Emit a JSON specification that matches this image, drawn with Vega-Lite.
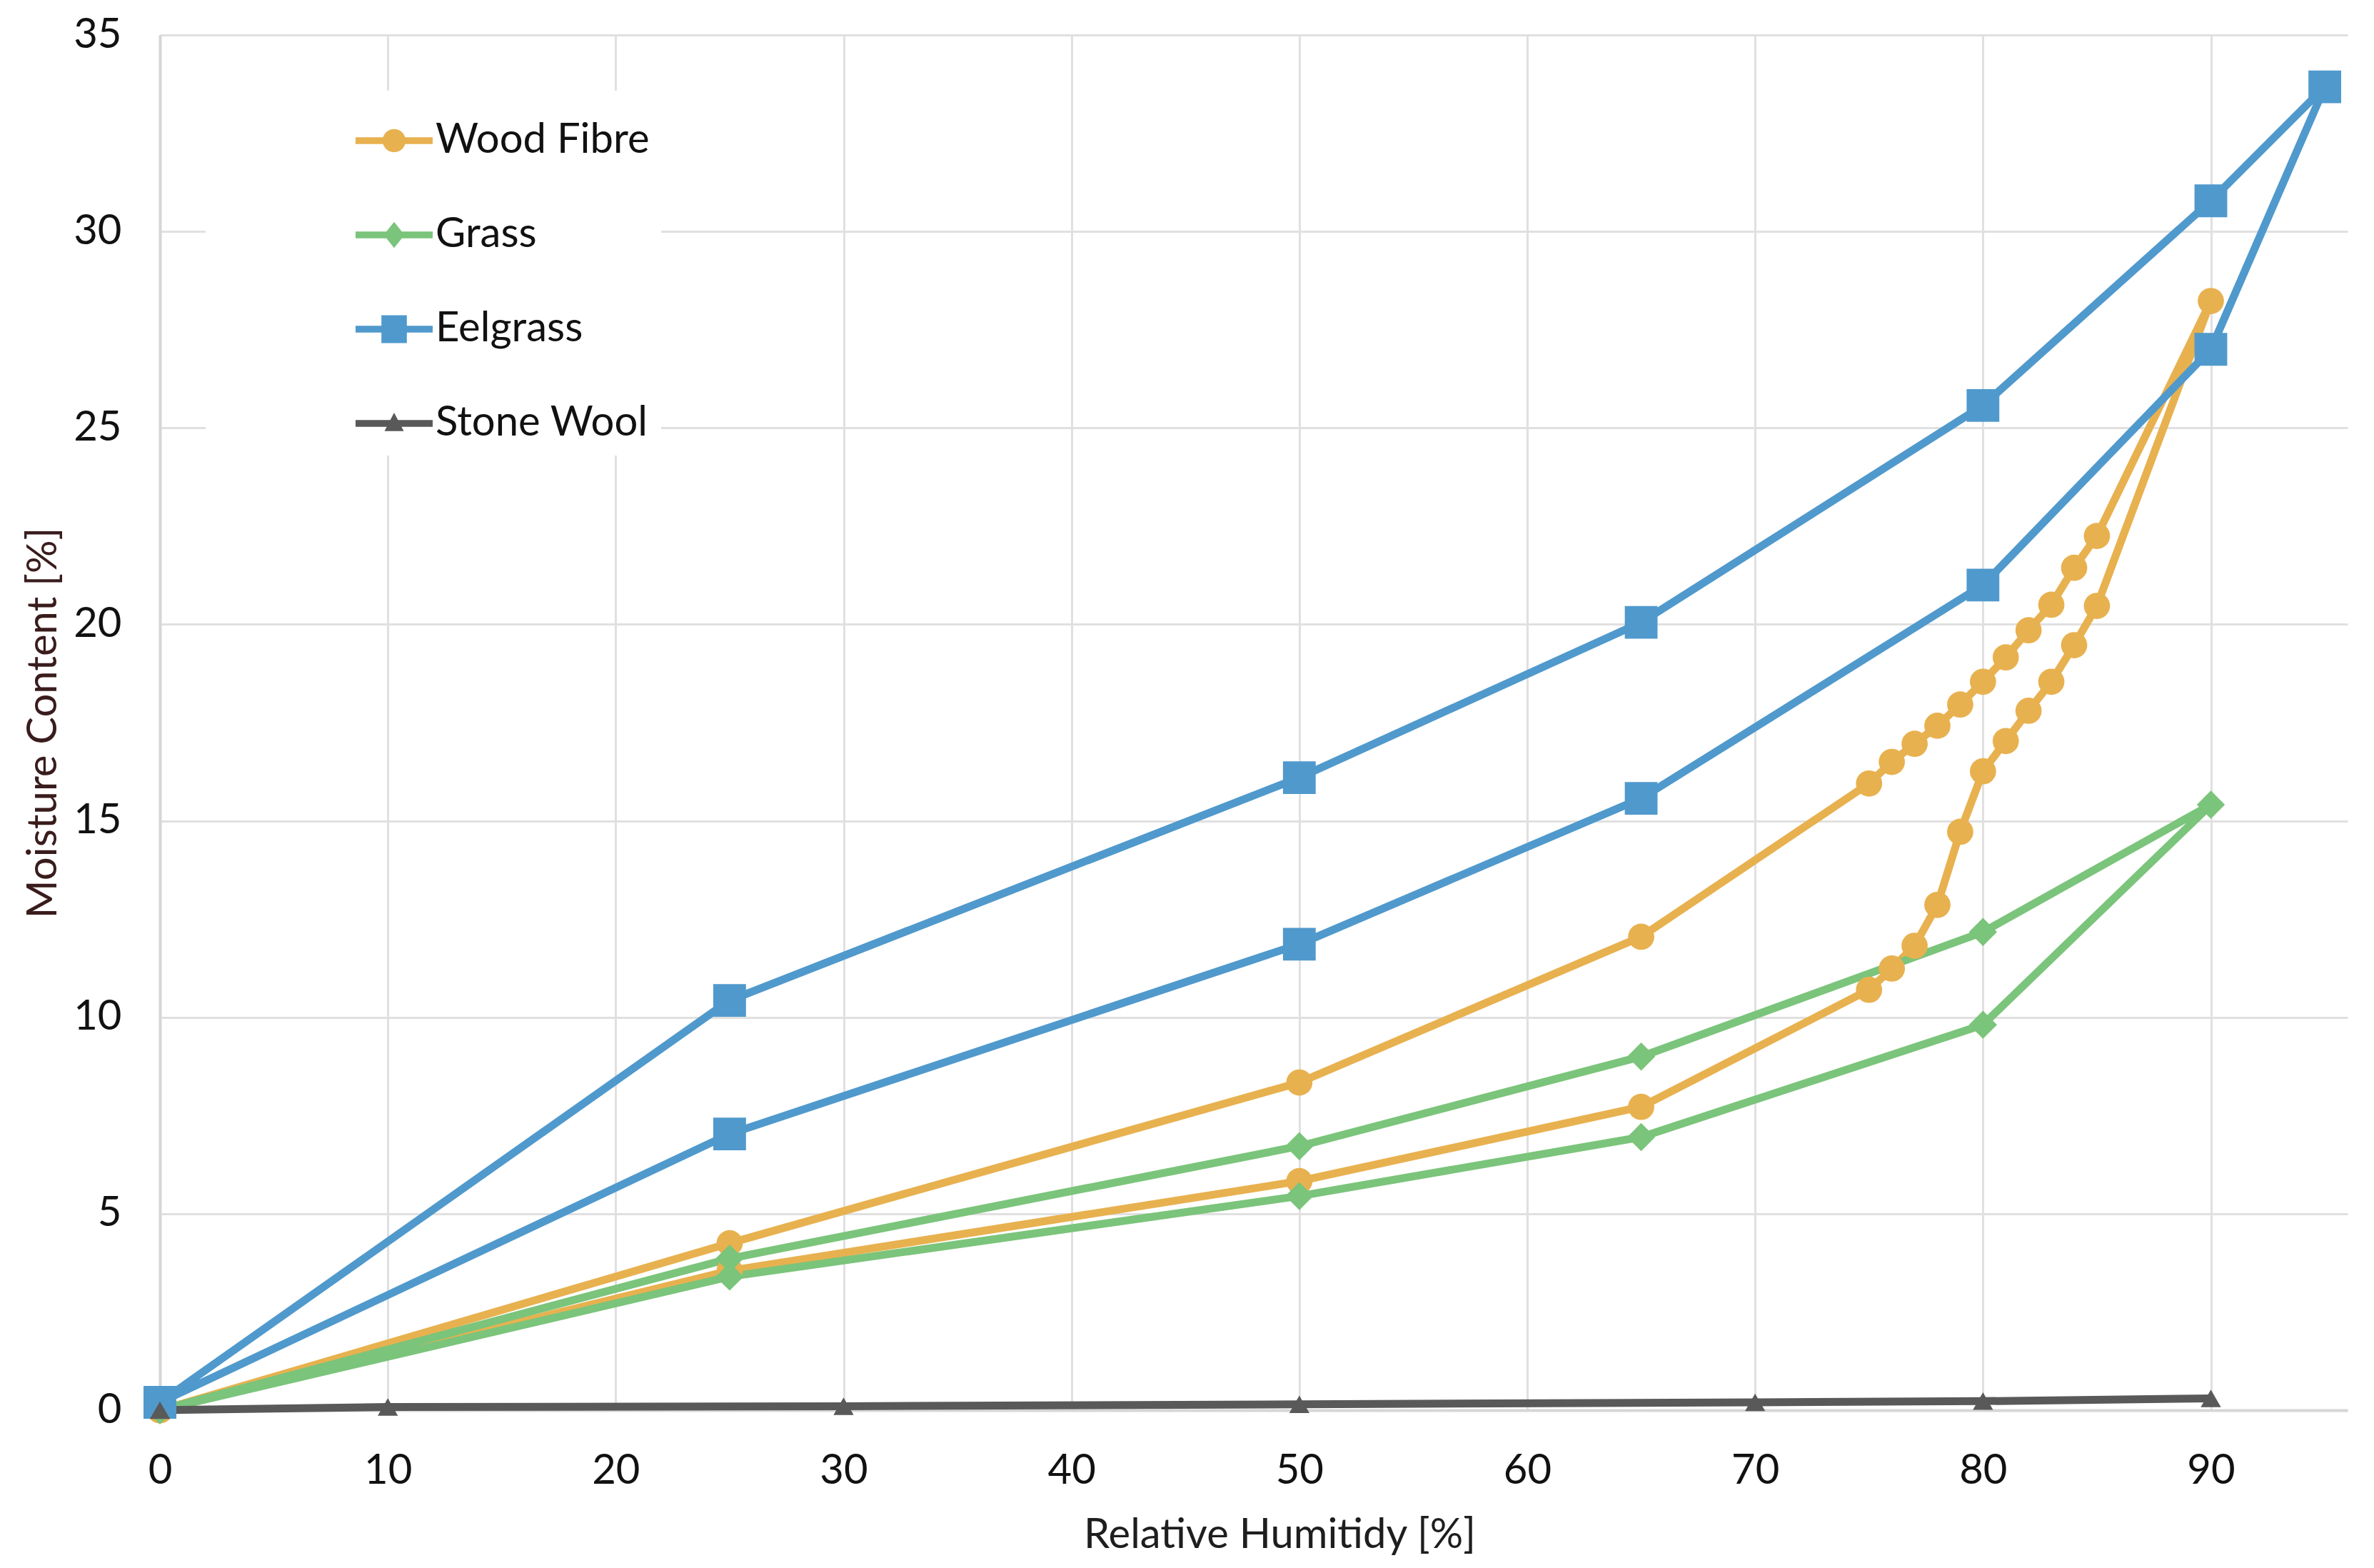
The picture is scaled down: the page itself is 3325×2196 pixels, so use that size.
{
  "$schema": "https://vega.github.io/schema/vega-lite/v6.json",
  "autosize": {"type": "none"},
  "width": 3064,
  "height": 1926,
  "padding": {"left": 224, "top": 49, "right": 37, "bottom": 221},
  "background": "white",
  "config": {
    "view": {"stroke": null},
    "font": "Lato",
    "legend": {"rowPadding": 49},
    "axis": {
      "domainColor": "#d6d6d6",
      "domainWidth": 4,
      "gridColor": "#e0e0e0",
      "gridWidth": 3,
      "ticks": false,
      "labelFlush": false,
      "labelFont": "Lato",
      "titleFont": "Lato",
      "labelFontSize": 58,
      "titleFontSize": 58,
      "titleFontWeight": "normal",
      "labelColor": "#111111"
    }
  },
  "data": {
    "values": [
      {"series": "Wood Fibre", "i": 0, "rh": 0, "mc": 0},
      {"series": "Wood Fibre", "i": 1, "rh": 25, "mc": 3.55},
      {"series": "Wood Fibre", "i": 2, "rh": 50, "mc": 5.83},
      {"series": "Wood Fibre", "i": 3, "rh": 65, "mc": 7.72},
      {"series": "Wood Fibre", "i": 4, "rh": 75, "mc": 10.7},
      {"series": "Wood Fibre", "i": 5, "rh": 76, "mc": 11.24},
      {"series": "Wood Fibre", "i": 6, "rh": 77, "mc": 11.82},
      {"series": "Wood Fibre", "i": 7, "rh": 78, "mc": 12.86},
      {"series": "Wood Fibre", "i": 8, "rh": 79, "mc": 14.72},
      {"series": "Wood Fibre", "i": 9, "rh": 80, "mc": 16.26},
      {"series": "Wood Fibre", "i": 10, "rh": 81, "mc": 17.03},
      {"series": "Wood Fibre", "i": 11, "rh": 82, "mc": 17.8},
      {"series": "Wood Fibre", "i": 12, "rh": 83, "mc": 18.54},
      {"series": "Wood Fibre", "i": 13, "rh": 84, "mc": 19.47},
      {"series": "Wood Fibre", "i": 14, "rh": 85, "mc": 20.47},
      {"series": "Wood Fibre", "i": 15, "rh": 90, "mc": 28.23},
      {"series": "Wood Fibre", "i": 16, "rh": 85, "mc": 22.25},
      {"series": "Wood Fibre", "i": 17, "rh": 84, "mc": 21.44},
      {"series": "Wood Fibre", "i": 18, "rh": 83, "mc": 20.5},
      {"series": "Wood Fibre", "i": 19, "rh": 82, "mc": 19.85},
      {"series": "Wood Fibre", "i": 20, "rh": 81, "mc": 19.16},
      {"series": "Wood Fibre", "i": 21, "rh": 80, "mc": 18.54},
      {"series": "Wood Fibre", "i": 22, "rh": 79, "mc": 17.96},
      {"series": "Wood Fibre", "i": 23, "rh": 78, "mc": 17.42},
      {"series": "Wood Fibre", "i": 24, "rh": 77, "mc": 16.96},
      {"series": "Wood Fibre", "i": 25, "rh": 76, "mc": 16.5},
      {"series": "Wood Fibre", "i": 26, "rh": 75, "mc": 15.95},
      {"series": "Wood Fibre", "i": 27, "rh": 65, "mc": 12.05},
      {"series": "Wood Fibre", "i": 28, "rh": 50, "mc": 8.34},
      {"series": "Wood Fibre", "i": 29, "rh": 25, "mc": 4.25},
      {"series": "Wood Fibre", "i": 30, "rh": 0, "mc": 0},
      {"series": "Grass", "i": 0, "rh": 0, "mc": 0},
      {"series": "Grass", "i": 1, "rh": 25, "mc": 3.4},
      {"series": "Grass", "i": 2, "rh": 50, "mc": 5.45},
      {"series": "Grass", "i": 3, "rh": 65, "mc": 6.95},
      {"series": "Grass", "i": 4, "rh": 80, "mc": 9.81},
      {"series": "Grass", "i": 5, "rh": 90, "mc": 15.41},
      {"series": "Grass", "i": 6, "rh": 80, "mc": 12.17},
      {"series": "Grass", "i": 7, "rh": 65, "mc": 9.0},
      {"series": "Grass", "i": 8, "rh": 50, "mc": 6.72},
      {"series": "Grass", "i": 9, "rh": 25, "mc": 3.86},
      {"series": "Grass", "i": 10, "rh": 0, "mc": 0},
      {"series": "Eelgrass", "i": 0, "rh": 0, "mc": 0.2},
      {"series": "Eelgrass", "i": 1, "rh": 25, "mc": 7.03},
      {"series": "Eelgrass", "i": 2, "rh": 50, "mc": 11.86},
      {"series": "Eelgrass", "i": 3, "rh": 65, "mc": 15.57},
      {"series": "Eelgrass", "i": 4, "rh": 80, "mc": 21.0},
      {"series": "Eelgrass", "i": 5, "rh": 90, "mc": 27.0},
      {"series": "Eelgrass", "i": 6, "rh": 95, "mc": 33.68},
      {"series": "Eelgrass", "i": 7, "rh": 90, "mc": 30.78},
      {"series": "Eelgrass", "i": 8, "rh": 80, "mc": 25.57},
      {"series": "Eelgrass", "i": 9, "rh": 65, "mc": 20.05},
      {"series": "Eelgrass", "i": 10, "rh": 50, "mc": 16.1},
      {"series": "Eelgrass", "i": 11, "rh": 25, "mc": 10.43},
      {"series": "Eelgrass", "i": 12, "rh": 0, "mc": 0.2},
      {"series": "Stone Wool", "i": 0, "rh": 0, "mc": 0},
      {"series": "Stone Wool", "i": 1, "rh": 10, "mc": 0.08},
      {"series": "Stone Wool", "i": 2, "rh": 30, "mc": 0.1},
      {"series": "Stone Wool", "i": 3, "rh": 50, "mc": 0.15},
      {"series": "Stone Wool", "i": 4, "rh": 70, "mc": 0.2},
      {"series": "Stone Wool", "i": 5, "rh": 80, "mc": 0.23},
      {"series": "Stone Wool", "i": 6, "rh": 90, "mc": 0.3}
    ]
  },
  "encoding": {
    "x": {
      "field": "rh",
      "type": "quantitative",
      "scale": {"domain": [0, 96], "nice": false},
      "axis": {
        "values": [0, 10, 20, 30, 40, 50, 60, 70, 80, 90],
        "title": "Relative Humitidy [%]",
        "titleColor": "#1e1e1e",
        "labelPadding": 56,
        "titlePadding": 32,
        "titleX": 1568
      }
    },
    "y": {
      "field": "mc",
      "type": "quantitative",
      "scale": {"domain": [0, 35], "nice": false},
      "axis": {
        "values": [0, 5, 10, 15, 20, 25, 30, 35],
        "title": "Moisture Content [%]",
        "titleColor": "#3a1c1c",
        "labelPadding": 54,
        "titlePadding": 12
      }
    },
    "color": {
      "field": "series",
      "type": "nominal",
      "scale": {
        "domain": ["Wood Fibre", "Grass", "Eelgrass", "Stone Wool"],
        "range": ["#e8b14f", "#7bc47b", "#5099cc", "#595959"]
      },
      "legend": {
        "orient": "none",
        "legendX": 64,
        "legendY": 78,
        "title": " ",
        "titleOrient": "left",
        "titleFontSize": 58,
        "titlePadding": 194,
        "padding": 16,
        "fillColor": "white",
        "symbolSize": 17161,
        "symbolStrokeWidth": 0,
        "symbolOpacity": 1,
        "labelFont": "Lato",
        "labelFontSize": 58,
        "labelColor": "#111111",
        "labelOffset": 4,
        "labelLimit": 0,
        "rowPadding": 49,
        "encode": {
          "symbols": {
            "update": {
              "size": {"value": 11664},
              "strokeWidth": {"value": 0},
              "opacity": {"value": 1},
              "shape": {
                "signal": "datum.value === 'Wood Fibre' ? 'M-1,-0.09H1V0.09H-1ZM-0.3,0A0.3,0.3 0 1,1 0.3,0A0.3,0.3 0 1,1 -0.3,0Z' : datum.value === 'Grass' ? 'M-1,-0.09H1V0.09H-1ZM0,-0.34L0.27,0L0,0.34L-0.27,0Z' : datum.value === 'Eelgrass' ? 'M-1,-0.09H1V0.09H-1ZM-0.33,-0.36H0.33V0.36H-0.33Z' : 'M-1,-0.09H1V0.09H-1ZM0,-0.28L0.25,0.2H-0.25Z'"
              }
            }
          }
        }
      }
    }
  },
  "layer": [
    {
      "mark": {"type": "line", "strokeWidth": 11, "strokeJoin": "round", "strokeCap": "round"},
      "encoding": {
        "order": {"field": "i", "type": "quantitative"}
      }
    },
    {
      "mark": {"type": "point", "filled": true, "opacity": 1},
      "encoding": {
        "shape": {
          "condition": [
            {"test": "datum.series === 'Grass'", "value": "diamond"},
            {"test": "datum.series === 'Eelgrass'", "value": "square"},
            {"test": "datum.series === 'Stone Wool'", "value": "triangle-up"}
          ],
          "value": "circle"
        },
        "size": {
          "condition": [
            {"test": "datum.series === 'Eelgrass'", "value": 2100},
            {"test": "datum.series === 'Grass'", "value": 1550},
            {"test": "datum.series === 'Stone Wool'", "value": 800}
          ],
          "value": 1350
        }
      }
    }
  ]
}
